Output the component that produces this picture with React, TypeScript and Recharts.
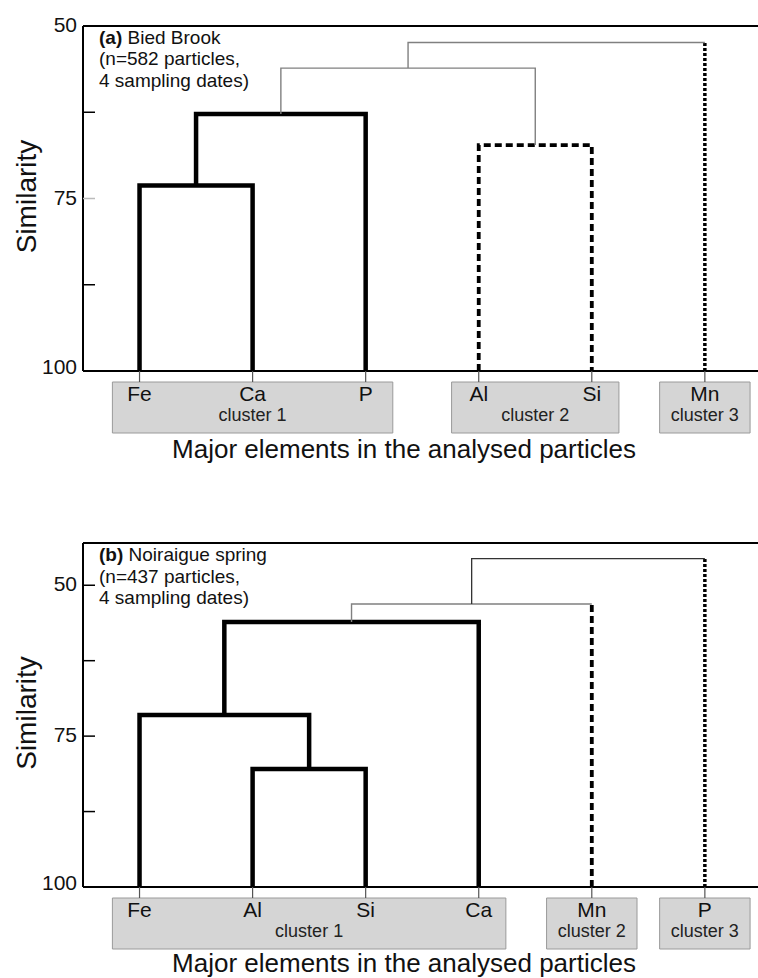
import React from "react";
import { ComposedChart, Line, XAxis, YAxis, ReferenceArea, ReferenceLine } from "recharts";

const FONT = '"Liberation Sans", Arial, Helvetica, sans-serif';

// (a) Bied Brook
const leavesA = ["Fe", "Ca", "P", "Al", "Si", "Mn"];
const leafClusterA = [1, 1, 1, 2, 2, 3];
// [left node, right node, similarity] - nodes 0..5 are leaves, merges get ids 6, 7, ...
const mergesA: [number, number, number][] = [
  [0, 1, 73.1],
  [6, 2, 62.75],
  [3, 4, 67.25],
  [7, 8, 56.1],
  [9, 5, 52.4],
];
const mergeStyleA = ["c1", "c1", "c2", "thin", "thin"];

// (b) Noiraigue spring
const leavesB = ["Fe", "Al", "Si", "Ca", "Mn", "P"];
const leafClusterB = [1, 1, 1, 1, 2, 3];
const mergesB: [number, number, number][] = [
  [1, 2, 80.45],
  [0, 6, 71.5],
  [7, 3, 56.1],
  [8, 4, 53.1],
  [9, 5, 45.6],
];
const mergeStyleB = ["c1", "c1", "c1", "thin", "dark"];

const clusterNames = ["cluster 1", "cluster 2", "cluster 3"];
const yTicks = [50, 62.5, 75, 87.5, 100];
const yTickLabels = ["50", "", "75", "", "100"];

const STYLES: Record<string, any> = {
  c1: { stroke: "#000", strokeWidth: 4.5 },
  c2: { stroke: "#000", strokeWidth: 3.8, strokeDasharray: "7 4" },
  c3: { stroke: "#000", strokeWidth: 3.5, strokeDasharray: "3 2" },
  thin: { stroke: "#808080", strokeWidth: 1.4 },
  dark: { stroke: "#333", strokeWidth: 1.3 },
};

function buildLinks(merges: [number, number, number][], styles: string[], leafCluster: number[]) {
  const n = leafCluster.length;
  const xs = leafCluster.map((_, i) => i);
  const hs = leafCluster.map(() => 100);
  const links: { style: string; pts: { x: number; y: number }[] }[] = [];
  merges.forEach(([l, r, h], k) => {
    const style = styles[k];
    const lStyle = l < n ? "c" + leafCluster[l] : style;
    const rStyle = r < n ? "c" + leafCluster[r] : style;
    const pts: { x: number; y: number }[] = [];
    if (lStyle === style) pts.push({ x: xs[l], y: hs[l] });
    else links.push({ style: lStyle, pts: [{ x: xs[l], y: hs[l] }, { x: xs[l], y: h }] });
    pts.push({ x: xs[l], y: h }, { x: xs[r], y: h });
    if (rStyle === style) pts.push({ x: xs[r], y: hs[r] });
    else links.push({ style: rStyle, pts: [{ x: xs[r], y: hs[r] }, { x: xs[r], y: h }] });
    links.push({ style, pts });
    xs.push((xs[l] + xs[r]) / 2);
    hs.push(h);
  });
  return links;
}

const YTick = (props: any) => {
  const { x, y, payload, c75 } = props;
  const i = yTicks.indexOf(payload.value);
  const ax = x + 6;
  return (
    <g>
      <line x1={ax} x2={ax + 12} y1={y} y2={y} stroke={payload.value === 75 ? c75 : "#000"} strokeWidth={1.5} />
      {yTickLabels[i] ? (
        <text x={x} y={payload.value === 100 ? y + 3 : y + 6} textAnchor="end" fontSize={21} fontFamily={FONT} fill="#111">
          {yTickLabels[i]}
        </text>
      ) : null}
    </g>
  );
};

const XTick = (props: any) => {
  const { x, y, payload, names } = props;
  return (
    <text x={x} y={y + 18.5} textAnchor="middle" fontSize={21} fontFamily={FONT} fill="#111">
      {names[payload.value]}
    </text>
  );
};

function Dendrogram(props: any) {
  const { leaves, leafCluster, merges, mergeStyles, yMin, height, marginTop, xAxisHeight, titleDy, c75 } = props;
  const links = buildLinks(merges, mergeStyles, leafCluster);
  const leafIdx = leaves.map((_: string, i: number) => i);
  const plotH = height - marginTop - xAxisHeight;
  const pxPerUnit = plotH / (100 - yMin);
  const boxTop = 100 + 11 / pxPerUnit;
  const boxBottom = 100 + 62 / pxPerUnit;

  const clusters = clusterNames.map((name, c) => {
    const idx = leafIdx.filter((i: number) => leafCluster[i] === c + 1);
    const pad = idx.length > 1 ? 0.24 : 0.4;
    return { name, x1: idx[0] - pad, x2: idx[idx.length - 1] + pad };
  });

  return (
    <ComposedChart width={758} height={height} margin={{ top: marginTop, right: 0, left: 0, bottom: 0 }}>
      {clusters.map((c) => (
        <ReferenceArea
          key={c.name}
          x1={c.x1}
          x2={c.x2}
          y1={boxTop}
          y2={boxBottom}
          ifOverflow="visible"
          fill="#d5d5d5"
          fillOpacity={1}
          stroke="#9a9a9a"
          strokeWidth={1}
          label={(p: any) => {
            const vb = p.viewBox;
            return (
              <text x={vb.x + vb.width / 2} y={vb.y + vb.height - 12} textAnchor="middle" fontSize={18} fontFamily={FONT} fill="#222">
                {c.name}
              </text>
            );
          }}
        />
      ))}
      <ReferenceLine y={yMin} stroke="#000" strokeWidth={2} ifOverflow="visible" />
      {links.map((lk, i) => (
        <Line
          key={i}
          data={lk.pts}
          dataKey="y"
          type="linear"
          dot={false}
          activeDot={false}
          isAnimationActive={false}
          strokeLinejoin="miter"
          strokeLinecap="butt"
          {...STYLES[lk.style]}
        />
      ))}
      <XAxis
        type="number"
        dataKey="x"
        domain={[-0.5, 5.47]}
        ticks={leafIdx}
        interval={0}
        allowDataOverflow
        height={xAxisHeight}
        axisLine={{ stroke: "#000", strokeWidth: 2 }}
        tickLine={{ stroke: "#555", strokeWidth: 1.2 }}
        tickSize={11}
        tickMargin={0}
        tick={(p: any) => <XTick {...p} names={leaves} />}
        label={(p: any) => {
          const vb = p.viewBox;
          return (
            <text x={vb.x + vb.width / 2 - 16.5} y={vb.y + titleDy} textAnchor="middle" fontSize={26} fontFamily={FONT} fill="#111">
              Major elements in the analysed particles
            </text>
          );
        }}
      />
      <YAxis
        type="number"
        domain={[yMin, 100]}
        reversed
        allowDataOverflow
        ticks={yTicks}
        interval={0}
        width={83}
        axisLine={{ stroke: "#000", strokeWidth: 2 }}
        tickLine={false}
        tickSize={0}
        tickMargin={6}
        tick={(p: any) => <YTick {...p} c75={c75} />}
        label={(p: any) => {
          const vb = p.viewBox;
          const cy = vb.y + vb.height / 2 - 2;
          return (
            <text x={36} y={cy} transform={`rotate(-90, 36, ${cy})`} textAnchor="middle" fontSize={28} fontFamily={FONT} fill="#111">
              Similarity
            </text>
          );
        }}
      />
    </ComposedChart>
  );
}

const noteStyle: React.CSSProperties = {
  position: "absolute",
  left: 99,
  fontFamily: FONT,
  fontSize: 19,
  lineHeight: "21.7px",
  color: "#111",
  whiteSpace: "nowrap",
};

export default function App() {
  return (
    <div style={{ position: "absolute", left: 0, top: 0, width: 758, height: 978, background: "#fff", overflow: "hidden" }}>
      <div style={{ position: "absolute", left: 0, top: 0 }}>
        <Dendrogram
          leaves={leavesA}
          leafCluster={leafClusterA}
          merges={mergesA}
          mergeStyles={mergeStyleA}
          yMin={50}
          height={480}
          marginTop={26}
          xAxisHeight={109}
          titleDy={87}
          c75="#bbb"
        />
      </div>
      <div style={{ ...noteStyle, top: 26.5 }}>
        <b>(a)</b> Bied Brook
        <br />
        (n=582 particles,
        <br />4 sampling dates)
      </div>
      <div style={{ position: "absolute", left: 0, top: 480 }}>
        <Dendrogram
          leaves={leavesB}
          leafCluster={leafClusterB}
          merges={mergesB}
          mergeStyles={mergeStyleB}
          yMin={43}
          height={498}
          marginTop={63}
          xAxisHeight={91}
          titleDy={85}
          c75="#000"
        />
      </div>
      <div style={{ ...noteStyle, top: 544 }}>
        <b>(b)</b> Noiraigue spring
        <br />
        (n=437 particles,
        <br />4 sampling dates)
      </div>
    </div>
  );
}
